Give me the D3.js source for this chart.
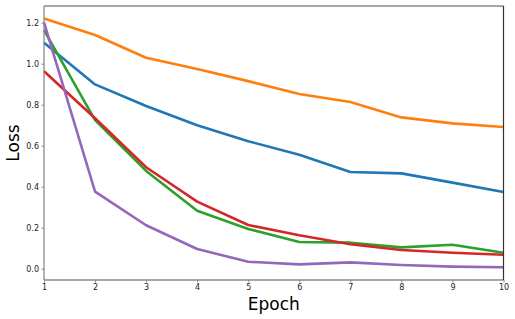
<!DOCTYPE html>
<html>
<head>
<meta charset="utf-8">
<script src="https://cdn.jsdelivr.net/npm/d3@7"></script>
<style>
  body { margin: 0; background: white; }
  svg { display: block; }
</style>
</head>
<body>
<div id="chart"></div>
<script>
var epochs = [1, 2, 3, 4, 5, 6, 7, 8, 9, 10];
var blueLoss   = [1.102, 0.899, 0.794, 0.700, 0.622, 0.556, 0.472, 0.465, 0.420, 0.374];
var orangeLoss = [1.221, 1.140, 1.029, 0.974, 0.915, 0.852, 0.813, 0.738, 0.709, 0.691];
var greenLoss  = [1.164, 0.725, 0.477, 0.283, 0.194, 0.130, 0.127, 0.104, 0.117, 0.078];
var redLoss    = [0.963, 0.734, 0.495, 0.327, 0.213, 0.163, 0.119, 0.091, 0.078, 0.068];
var purpleLoss = [1.202, 0.376, 0.212, 0.096, 0.034, 0.021, 0.031, 0.018, 0.010, 0.007];
var xTicks = [1, 2, 3, 4, 5, 6, 7, 8, 9, 10];
var yTicks = [0.0, 0.2, 0.4, 0.6, 0.8, 1.0, 1.2];

var series = [
  { name: 'blue', color: '#1f77b4', values: blueLoss },
  { name: 'orange', color: '#ff7f0e', values: orangeLoss },
  { name: 'green', color: '#2ca02c', values: greenLoss },
  { name: 'red', color: '#d62728', values: redLoss },
  { name: 'purple', color: '#9467bd', values: purpleLoss }
];

var w = 515, h = 319;
var plotLeft = 44, plotRight = 503.5, plotTop = 6, plotBottom = 280;

var svg = d3.select('#chart').append('svg')
  .attr('width', w)
  .attr('height', h);

var x = d3.scaleLinear().domain([1, 10]).range([plotLeft, plotRight]);
var y = d3.scaleLinear().domain([-0.0551, 1.2815]).range([plotBottom, plotTop]);

// lines
var line = d3.line()
  .x(function(d, i) { return x(epochs[i]); })
  .y(function(d) { return y(d); });

svg.append('g').attr('class', 'lines')
  .selectAll('path')
  .data(series)
  .enter().append('path')
  .attr('d', function(d) { return line(d.values); })
  .attr('fill', 'none')
  .attr('stroke', function(d) { return d.color; })
  .attr('stroke-width', 2.6)
  .attr('stroke-linejoin', 'round');

// axes
var xAxis = svg.append('g')
  .attr('transform', 'translate(0,' + plotBottom + ')')
  .call(d3.axisBottom(x).tickValues(xTicks).tickFormat(d3.format('d')).tickSize(2.5).tickPadding(2));
var yAxis = svg.append('g')
  .attr('transform', 'translate(' + plotLeft + ',0)')
  .call(d3.axisLeft(y).tickValues(yTicks).tickFormat(d3.format('.1f')).tickSize(2.5).tickPadding(2.5));

[xAxis, yAxis].forEach(function(a) {
  a.select('.domain').remove();
  a.selectAll('line').attr('stroke', '#888').attr('stroke-width', 1);
  a.selectAll('text')
    .attr('fill', '#222')
    .attr('font-family', "'DejaVu Sans', sans-serif")
    .attr('font-size', 8);
});

// spines
svg.append('line').attr('x1', plotLeft).attr('x2', plotRight).attr('y1', plotTop).attr('y2', plotTop)
  .attr('stroke', '#8a8a8a').attr('stroke-width', 1.3);
svg.append('line').attr('x1', plotLeft).attr('x2', plotLeft).attr('y1', plotTop).attr('y2', plotBottom)
  .attr('stroke', '#8a8a8a').attr('stroke-width', 1.3);
svg.append('line').attr('x1', plotLeft).attr('x2', plotRight).attr('y1', plotBottom).attr('y2', plotBottom)
  .attr('stroke', '#8a8a8a').attr('stroke-width', 1.3);
svg.append('line').attr('x1', plotRight).attr('x2', plotRight).attr('y1', plotTop).attr('y2', plotBottom)
  .attr('stroke', '#333').attr('stroke-width', 1.2);

// axis titles
svg.append('text')
  .attr('x', (plotLeft + plotRight) / 2)
  .attr('y', 310)
  .attr('text-anchor', 'middle')
  .attr('font-family', "'DejaVu Sans', sans-serif")
  .attr('font-size', 17)
  .attr('fill', '#000')
  .text('Epoch');

svg.append('text')
  .attr('transform', 'translate(19,' + ((plotTop + plotBottom) / 2) + ') rotate(-90)')
  .attr('text-anchor', 'middle')
  .attr('font-family', "'DejaVu Sans', sans-serif")
  .attr('font-size', 17)
  .attr('fill', '#000')
  .text('Loss');
</script>
</body>
</html>
